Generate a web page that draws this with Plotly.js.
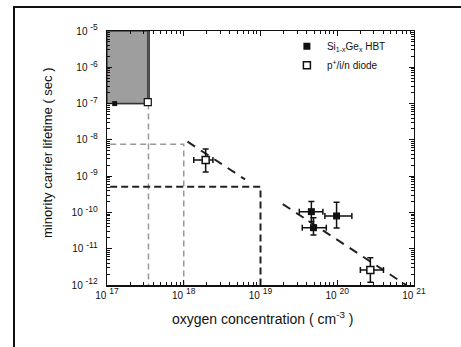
<!DOCTYPE html>
<html>
<head>
<meta charset="utf-8">
<script src="https://cdn.plot.ly/plotly-3.0.1.min.js"></script>
<style>
html,body{margin:0;padding:0;background:#fff;}
#plot{position:absolute;left:0;top:0;width:461px;height:347px;}
#frame{position:absolute;left:13px;top:6px;width:448px;height:341px;border-top:2px solid #111;border-left:2px solid #111;pointer-events:none;z-index:10;}
</style>
</head>
<body>
<div id="plot"></div>
<div id="frame"></div>
<script>
// ---- data ----
var yTickVals = [1e-12, 1e-11, 1e-10, 1e-9, 1e-8, 1e-7, 1e-6, 1e-5];
var yTickExp  = ["-12", "-11", "-10", "-9", "-8", "-7", "-6", "-5"];
var xTickVals = [1e17, 1e18, 1e19, 1e20, 1e21];
var xTickExp  = ["17", "18", "19", "20", "21"];

// Si1-xGex HBT (filled)
var hbtX   = [4.6e19, 9.8e19, 4.9e19];
var hbtY   = [1.05e-10, 8.0e-11, 3.8e-11];
var hbtYHi = [2.0e-10, 1.9e-10, 7.1e-11];
var hbtYLo = [5.6e-11, 3.7e-11, 2.4e-11];
var hbtXLo = [3.2e19, 6.9e19, 3.5e19];
var hbtXHi = [6.5e19, 1.55e20, 7.2e19];

// p+/i/n diode (open)
var diodeX   = [1.93e18, 2.7e20];
var diodeY   = [2.8e-9, 2.6e-12];
var diodeYHi = [5.6e-9, 5.6e-12];
var diodeYLo = [1.3e-9, 1.2e-12];
var diodeXLo = [1.35e18, 2.0e20];
var diodeXHi = [2.4e18, 4.0e20];

// lower-limit points at the shaded region
var limHbtX = [1.26e17], limHbtY = [1.0e-7];
var limDiodeX = [3.4e17], limDiodeY = [1.1e-7];

// shaded region
var boxX = [1e17, 3.55e17, 3.55e17, 1e17, 1e17];
var boxY = [1e-5, 1e-5, 1e-7, 1e-7, 1e-5];
var boxInnerX = [1.26e17, 3.4e17, 3.4e17];
var boxInnerY = [1.0e-7, 1.0e-7, 1e-5];

// dashed guide lines
var grayVX = [3.47e17, 3.47e17], grayVY = [1e-7, 1e-12];
var grayBoxX = [1.1e17, 1e18, 1e18], grayBoxY = [7.6e-9, 7.6e-9, 1e-12];
var darkBoxX = [1.1e17, 1e19, 1e19], darkBoxY = [5.1e-10, 5.1e-10, 1e-12];
var fit1X = [1.12e18, 6.3e18], fit1Y = [8.9e-9, 8.1e-10];
var fit2X = [1.95e19, 7.9e20], fit2Y = [1.7e-10, 1.0e-12];

function diff(a, b) { return a.map(function (v, i) { return v - b[i]; }); }
function powText(exps) {
  return exps.map(function (e) { return "10 <sup><span style='font-size:8.5px'>" + e + "</span></sup>"; });
}

var traces = [
  {x: boxX, y: boxY, mode: 'lines', fill: 'toself', fillcolor: '#9e9e9e',
   line: {color: '#444', width: 1.5}, showlegend: false, hoverinfo: 'skip'},
  {x: boxInnerX, y: boxInnerY, mode: 'lines', line: {color: '#333', width: 1.2}, showlegend: false},
  {x: grayVX, y: grayVY, mode: 'lines', line: {color: '#999', width: 1.5, dash: '6px,4px'}, showlegend: false},
  {x: grayBoxX, y: grayBoxY, mode: 'lines', line: {color: '#999', width: 1.5, dash: '6px,4px'}, showlegend: false},
  {x: darkBoxX, y: darkBoxY, mode: 'lines', line: {color: '#222', width: 2, dash: '7px,4px'}, showlegend: false},
  {x: fit1X, y: fit1Y, mode: 'lines', line: {color: '#222', width: 2, dash: '9px,7px'}, showlegend: false},
  {x: fit2X, y: fit2Y, mode: 'lines', line: {color: '#222', width: 2, dash: '9px,7px'}, showlegend: false},
  {x: limHbtX, y: limHbtY, mode: 'markers', marker: {symbol: 'square', size: 5, color: '#111'}, showlegend: false},
  {x: limDiodeX, y: limDiodeY, mode: 'markers',
   marker: {symbol: 'square', size: 7, color: '#fff', line: {color: '#111', width: 1.2}}, showlegend: false},
  {x: hbtX, y: hbtY, mode: 'markers', name: 'Si<sub>1-x</sub>Ge<sub>x</sub> HBT',
   marker: {symbol: 'square', size: 7, color: '#111'},
   error_y: {type: 'data', symmetric: false, array: diff(hbtYHi, hbtY), arrayminus: diff(hbtY, hbtYLo),
             color: '#111', thickness: 1.5, width: 3},
   error_x: {type: 'data', symmetric: false, array: diff(hbtXHi, hbtX), arrayminus: diff(hbtX, hbtXLo),
             color: '#111', thickness: 1.5, width: 3}},
  {x: diodeX, y: diodeY, mode: 'markers', name: 'p<sup>+</sup>/i/n diode',
   marker: {symbol: 'square', size: 7, color: '#fff', line: {color: '#111', width: 1.5}},
   error_y: {type: 'data', symmetric: false, array: diff(diodeYHi, diodeY), arrayminus: diff(diodeY, diodeYLo),
             color: '#111', thickness: 1.5, width: 3},
   error_x: {type: 'data', symmetric: false, array: diff(diodeXHi, diodeX), arrayminus: diff(diodeX, diodeXLo),
             color: '#111', thickness: 1.5, width: 3}}
];

var font = 'Liberation Sans, Arial, Helvetica, sans-serif';
var layout = {
  width: 461, height: 347,
  margin: {l: 107, r: 47, t: 31, b: 62},
  paper_bgcolor: 'rgba(0,0,0,0)', plot_bgcolor: '#fff',
  font: {family: font, color: '#111', size: 10},
  showlegend: true,
  legend: {x: 0.586, y: 0.997, xanchor: 'left', yanchor: 'top', bgcolor: 'rgba(0,0,0,0)',
           font: {size: 10, family: font, color: '#111'}},
  xaxis: {type: 'log', range: [17, 21], tickmode: 'array', tickvals: xTickVals, ticktext: powText(xTickExp),
          ticks: 'inside', ticklen: 5, tickwidth: 1, tickcolor: '#111',
          showline: true, linecolor: '#111', linewidth: 1.5, mirror: 'ticks',
          showgrid: false, zeroline: false,
          minor: {ticks: 'inside', ticklen: 3, tickcolor: '#111', dtick: 'D1', showgrid: false},
          tickfont: {size: 10, family: font, color: '#111'}},
  yaxis: {type: 'log', range: [-12, -5], tickmode: 'array', tickvals: yTickVals, ticktext: powText(yTickExp),
          ticks: 'inside', ticklen: 5, tickwidth: 1, tickcolor: '#111',
          showline: true, linecolor: '#111', linewidth: 1.2, mirror: 'ticks',
          showgrid: false, zeroline: false, ticklabelstandoff: 6,
          minor: {ticks: 'inside', ticklen: 3, tickcolor: '#111', dtick: 'D1', showgrid: false},
          tickfont: {size: 10, family: font, color: '#111'}},
  annotations: [
    {text: 'minority carrier lifetime ( sec )', xref: 'paper', yref: 'paper', x: -0.192, y: 0.52,
     textangle: -90, xanchor: 'center', yanchor: 'middle', showarrow: false,
     font: {size: 13, family: font, color: '#111'}},
    {text: 'oxygen concentration ( cm<sup>-3</sup> )', xref: 'paper', yref: 'paper', x: 0.508, y: -0.13,
     xanchor: 'center', yanchor: 'middle', showarrow: false,
     font: {size: 14, family: font, color: '#111'}}
  ]
};

Plotly.newPlot('plot', traces, layout, {staticPlot: true, displayModeBar: false});
</script>
</body>
</html>
